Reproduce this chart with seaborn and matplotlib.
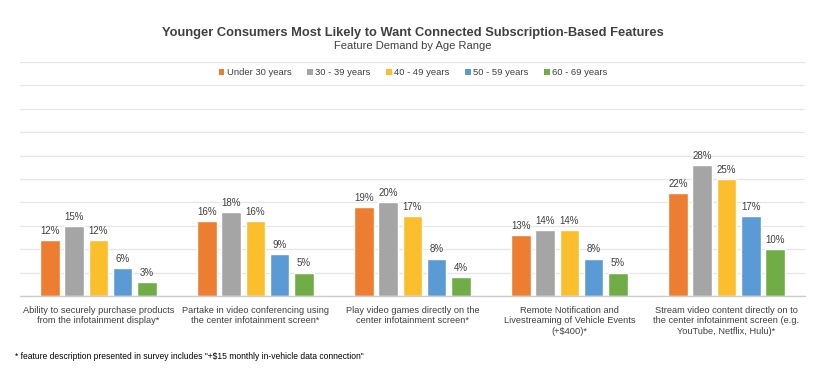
import matplotlib
matplotlib.use("Agg")
import matplotlib.pyplot as plt
import seaborn as sns
import pandas as pd
from matplotlib.patches import Patch

categories = [
    "Ability to securely purchase products\nfrom the infotainment display*",
    "Partake in video conferencing using\nthe center infotainment screen*",
    "Play video games directly on the\ncenter infotainment screen*",
    "Remote Notification and\nLivestreaming of Vehicle Events\n(+$400)*",
    "Stream video content directly on to\nthe center infotainment screen (e.g.\nYouTube, Netflix, Hulu)*",
]
age_groups = ["Under 30 years", "30 - 39 years", "40 - 49 years", "50 - 59 years", "60 - 69 years"]
under_30 = [12, 16, 19, 13, 22]
age_30_39 = [15, 18, 20, 14, 28]
age_40_49 = [12, 16, 17, 14, 25]
age_50_59 = [6, 9, 8, 8, 17]
age_60_69 = [3, 5, 4, 5, 10]
colors = ["#ED7D31", "#A5A5A5", "#FBBF2E", "#5B9BD5", "#70AD47"]

series = [under_30, age_30_39, age_40_49, age_50_59, age_60_69]
rows = []
for g, vals in zip(age_groups, series):
    for c, v in zip(categories, vals):
        rows.append({"Feature": c, "Age": g, "Value": v})
df = pd.DataFrame(rows)

sns.set_theme(style="white")
plt.rcParams['font.family'] = ['Liberation Sans', 'DejaVu Sans']

fig = plt.figure(figsize=(8.15, 3.68), dpi=100)
ax = fig.add_axes([0.0245, 0.1957, 0.9632, 0.6358])

sns.barplot(data=df, x="Feature", y="Value", hue="Age", order=categories,
            hue_order=age_groups, palette=colors, width=0.774, gap=0.2,
            saturation=1, ax=ax, legend=False)

for cont in ax.containers:
    ax.bar_label(cont, fmt="{:.0f}%", padding=3, fontsize=7, color="#404040")

ax.set_ylim(0, 50)
ax.set_yticks(range(0, 51, 5))
ax.set_yticklabels([])
ax.tick_params(axis='y', length=0)
ax.tick_params(axis='x', length=0, pad=7, labelsize=6.7, labelcolor="#404040")
for lbl in ax.get_xticklabels():
    lbl.set_linespacing(1.25)
ax.yaxis.grid(True, color="#E6E6E6", linewidth=0.9)
ax.set_axisbelow(True)
ax.set_xlabel("")
ax.set_ylabel("")
for s in ["left", "right", "top"]:
    ax.spines[s].set_visible(False)
ax.spines["bottom"].set_color("#CCCCCC")
ax.spines["bottom"].set_linewidth(1.0)
ax.set_xlim(-0.5, len(categories) - 0.5)

fig.text(0.507, 0.910, "Younger Consumers Most Likely to Want Connected Subscription-Based Features",
         ha="center", va="center", fontsize=9.3, fontweight="bold", color="#404040")
fig.text(0.507, 0.874, "Feature Demand by Age Range", ha="center", va="center",
         fontsize=8, color="#404040")

handles = [Patch(facecolor=c, edgecolor="none", label=g) for g, c in zip(age_groups, colors)]
leg = fig.legend(handles=handles, loc="center", bbox_to_anchor=(0.507, 0.802), ncol=5,
                 frameon=False, fontsize=6.8, handlelength=0.55, handleheight=0.55,
                 handletextpad=0.25, columnspacing=1.7, labelcolor="#404040")

fig.text(0.018, 0.03, '* feature description presented in survey includes "+$15 monthly in-vehicle data connection"',
         ha="left", va="center", fontsize=6.15, color="#000000")

fig.savefig("out.png", dpi=100)
